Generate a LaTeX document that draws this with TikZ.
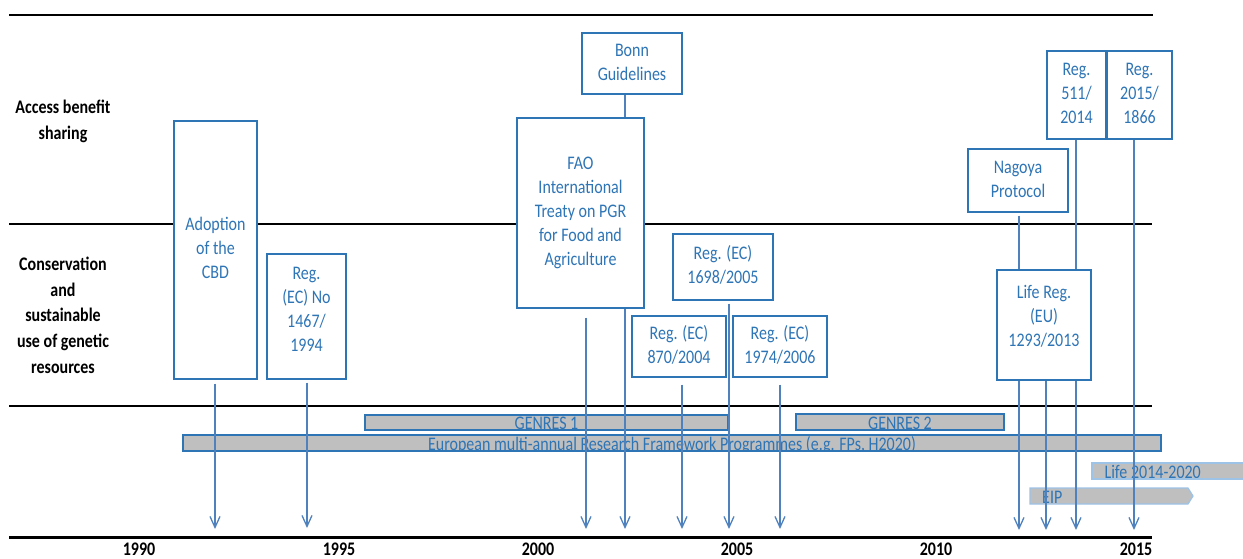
\documentclass[tikz,border=0pt]{standalone}
\usepackage{fontspec}
\setmainfont{Carlito}
\usepackage{graphicx}
\usetikzlibrary{arrows.meta}
\pgfdeclarelayer{bg}
\pgfsetlayers{bg,main}
\definecolor{tblue}{HTML}{2E75B6}
\definecolor{ablue}{HTML}{4F81BD}
\definecolor{bargrey}{HTML}{BFBFBF}
\definecolor{lblue}{HTML}{9DC3E6}
\newcommand\stx[1]{\scalebox{1}[1.2]{\begin{tabular}{@{}c@{}}#1\end{tabular}}}
\newcommand\sto[1]{\scalebox{1}[1.2]{#1}}
\tikzset{
  box/.style={draw=tblue, line width=1.4pt, fill=white, text=tblue, inner sep=0pt, font=\fontsize{16}{20}\selectfont},
  arr/.style={draw=ablue, line width=1.3pt, -{Straight Barb[length=11pt,width=10pt,line width=1.3pt]}},
  hline/.style={line width=1.3pt, black},
  bar/.style={draw=tblue, line width=1.2pt, fill=bargrey, inner sep=0pt},
  lbar/.style={draw=lblue, line width=1.2pt, fill=bargrey, inner sep=0pt},
  bartext/.style={draw=none, fill=none, text=tblue, font=\fontsize{16}{20}\selectfont, inner sep=0pt, minimum width=0pt, minimum height=0pt},
  lane/.style={font=\fontsize{16}{21.5}\selectfont\bfseries, inner sep=0pt},
  year/.style={font=\fontsize{16}{20}\selectfont\bfseries, inner sep=0pt, anchor=base},
}
\begin{document}
\begin{tikzpicture}[x=1pt,y=-1pt]
\useasboundingbox (0,0) rectangle (1243,558);

% event boxes
\node[box, minimum width=83pt, minimum height=258pt] (cbd) at (215.5,250) {\stx{Adoption\\of the\\CBD}};
\node[box, minimum width=79pt, minimum height=125pt] (r1467) at (306.5,316.5) {\stx{Reg.\\(EC) No\\1467/\\1994\\[-10pt]{}}};
\node[box, minimum width=127pt, minimum height=190pt] (fao) at (580.5,213) {\stx{FAO\\International\\Treaty on PGR\\for Food and\\Agriculture}};
\node[box, minimum width=100pt, minimum height=61pt] (bonn) at (632,63.5) {\stx{Bonn\\Guidelines}};
\node[box, minimum width=100pt, minimum height=66pt] (r1698) at (723,267) {\stx{Reg. (EC)\\1698/2005}};
\node[box, minimum width=94pt, minimum height=61pt] (r870) at (679,346.5) {\stx{Reg. (EC)\\870/2004}};
\node[box, minimum width=94pt, minimum height=61pt] (r1974) at (780,346.5) {\stx{Reg. (EC)\\1974/2006}};
\node[box, minimum width=100pt, minimum height=63pt] (nagoya) at (1018,180.5) {\stx{Nagoya\\Protocol}};
\node[box, minimum width=59pt, minimum height=88pt] (r511) at (1076.5,95) {\stx{Reg.\\511/\\2014}};
\node[box, minimum width=65pt, minimum height=88pt] (r1866) at (1139.5,95) {\stx{Reg.\\2015/\\1866}};
\node[box, minimum width=94pt, minimum height=110pt] (life) at (1044,325) {\stx{Life Reg.\\(EU)\\1293/2013\\[-7pt]{}}};

% lane labels
\node[lane] (abs) at (63,121.4) {\stx{Access benefit\\sharing}};
\node[lane] (csu) at (63,316.8) {\stx{Conservation\\and\\sustainable\\use of genetic\\resources}};

% years
\node[year] (y1990) at (139,555.5) {\sto{1990}};
\node[year] (y1995) at (339,555.5) {\sto{1995}};
\node[year] (y2000) at (538,555.5) {\sto{2000}};
\node[year] (y2005) at (737,555.5) {\sto{2005}};
\node[year] (y2010) at (936,555.5) {\sto{2010}};
\node[year] (y2015) at (1136,555.5) {\sto{2015}};

% arrow end points
\coordinate (e-cbd) at (215,529);
\coordinate (e-r1467) at (307,528);
\coordinate (e-fao) at (586,529);
\coordinate (e-bonn) at (625,529);
\coordinate (e-r870) at (682,529);
\coordinate (e-r1698) at (729,529);
\coordinate (e-r1974) at (780,529);
\coordinate (e-nagoya) at (1019,530);
\coordinate (e-life) at (1046,530);
\coordinate (e-r511) at (1076,530);
\coordinate (e-r1866) at (1134,530);

\begin{pgfonlayer}{bg}
  % lane separators and axis
  \draw[hline] (9,15) -- (1153,15);
  \draw[hline] (9,224) -- (1152,224);
  \draw[hline] (9,406) -- (1152,406);
  \draw[black, line width=3pt] (9,537) -- (1152,537);

  % programme bars
  \node[bar, minimum width=363pt, minimum height=15pt,
        path picture={\node[bartext, anchor=base] at ([yshift=1pt]path picture bounding box.south) {\sto{GENRES 1}};}]
        (genres1) at (546.5,422.5) {};
  \node[bar, minimum width=208pt, minimum height=16pt,
        path picture={\node[bartext, anchor=base] at ([yshift=1pt]path picture bounding box.south) {\sto{GENRES 2}};}]
        (genres2) at (900,422) {};
  \node[bar, minimum width=978pt, minimum height=16pt,
        path picture={\node[bartext, anchor=base] at ([yshift=1pt]path picture bounding box.south) {\sto{European multi-annual Research Framework Programmes (e.g. FPs, H2020)}};}]
        (fp) at (672,443) {};
  \node[lbar, minimum width=160pt, minimum height=16pt,
        path picture={\node[bartext, anchor=base west] at ([xshift=12pt,yshift=1pt]path picture bounding box.south west) {\sto{Life 2014-2020}};}]
        (life1420) at (1172,471) {};
  \draw[lbar] (1030,488) -- (1188,488) -- (1193,496) -- (1188,504) -- (1030,504) -- cycle;
  \node[bartext, anchor=base west] (eip) at (1042,503) {\sto{EIP}};

  % event arrows
  \draw[arr, shorten <=4pt] (cbd.south -| e-cbd) -- (e-cbd);
  \draw[arr, shorten <=3pt] (r1467.south -| e-r1467) -- (e-r1467);
  \draw[arr, shorten <=9pt] (fao.south -| e-fao) -- (e-fao);
  \draw[arr] (bonn.south -| e-bonn) -- (e-bonn);
  \draw[arr, shorten <=7pt] (r870.south -| e-r870) -- (e-r870);
  \draw[arr, shorten <=3pt] (r1698.south -| e-r1698) -- (e-r1698);
  \draw[arr, shorten <=7pt] (r1974.south -| e-r1974) -- (e-r1974);
  \draw[arr, shorten <=3pt] (nagoya.south -| e-nagoya) -- (e-nagoya);
  \draw[arr] (life.south -| e-life) -- (e-life);
  \draw[arr] (r511.south -| e-r511) -- (e-r511);
  \draw[arr] (r1866.south -| e-r1866) -- (e-r1866);
\end{pgfonlayer}
\end{tikzpicture}
\end{document}
